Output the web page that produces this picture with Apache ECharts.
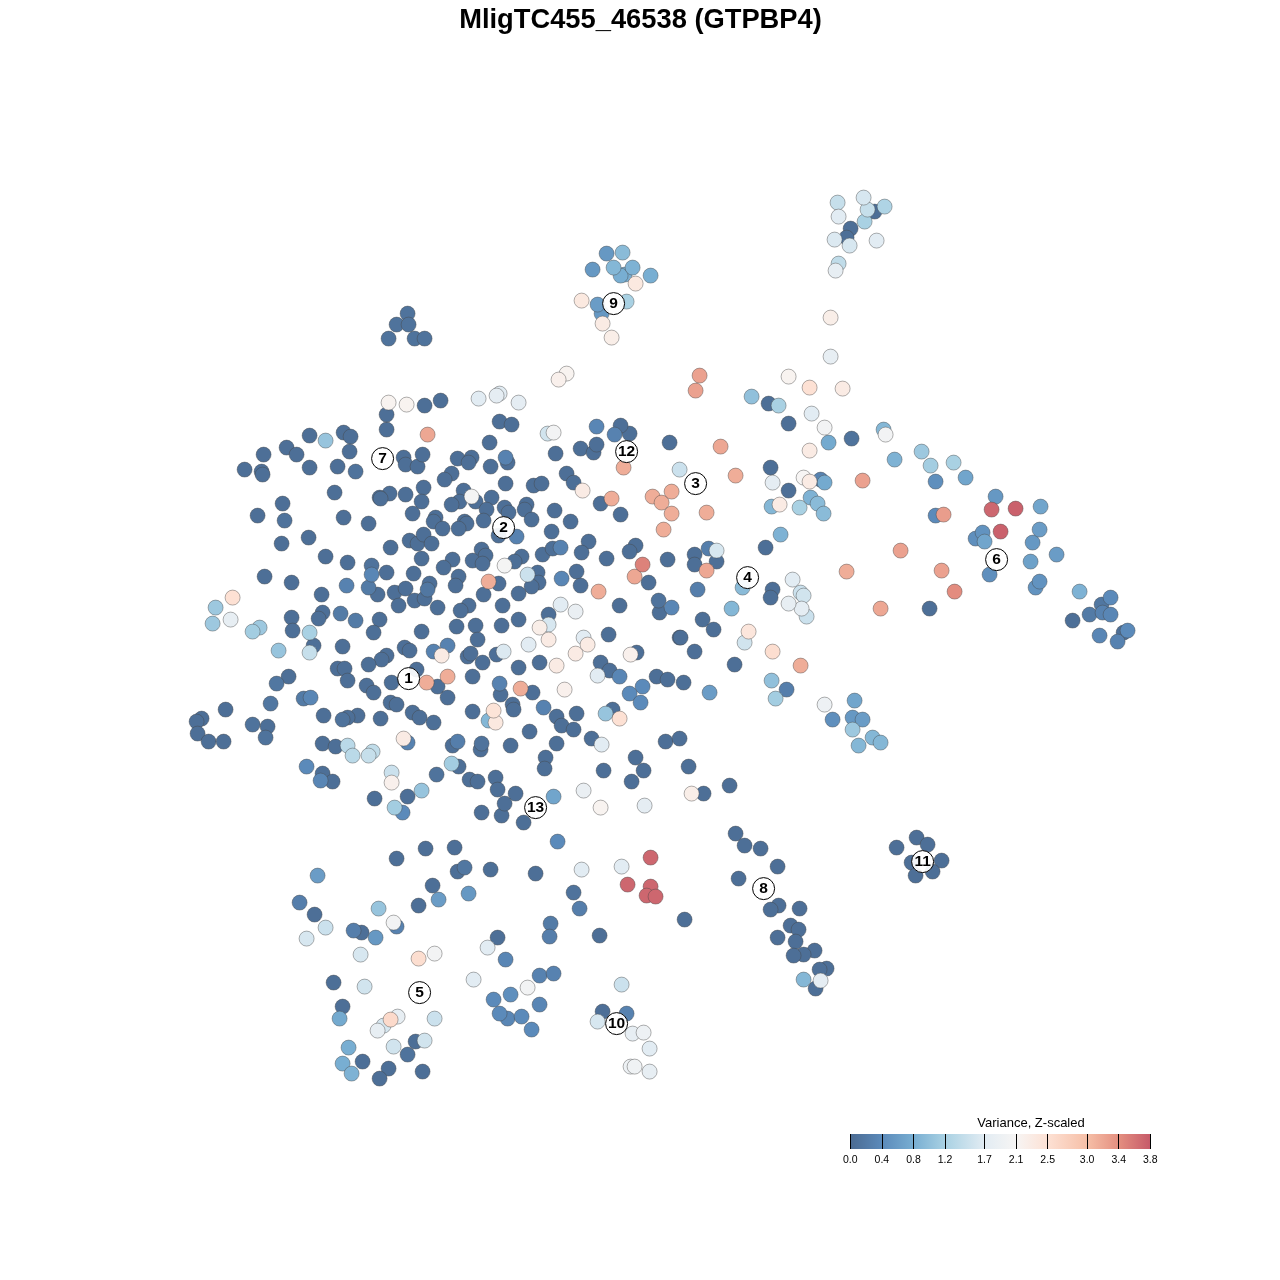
<!DOCTYPE html>
<html><head><meta charset="utf-8">
<script src="https://cdn.jsdelivr.net/npm/echarts@6/dist/echarts.min.js"></script>
<style>html,body{margin:0;padding:0;background:#fff}#c{width:1280px;height:1280px}</style>
</head><body><div id="c"></div>
<script>
// t-SNE coordinates are expressed on a 0..1280 embedding scale; third value = Z-scaled variance
const mainWest = [[309,435,.05],[325,440,1.05],[343,432,.05],[350,436,.05],[386,429,.05],[427,434,3.2],[489,442,.05],[263,454,.05],[286,447,.05],[296,454,.05],[244,469,.05],[261,471,.05],[262,474,.05],[309,467,.05],[337,466,.05],[355,471,.1],[349,451,.05],[403,457,.05],[405,464,.05],[417,466,.05],[422,454,.05],[457,458,.05],[471,457,.05],[468,462,.05],[490,466,.05],[451,473,.05],[444,479,.05],[423,487,.05],[389,493,.05],[405,494,.05],[379,497,.05],[380,498,.05],[334,492,.05],[282,503,.05],[257,515,.05],[284,520,.1],[343,517,.05],[368,523,.05],[421,501,.05],[463,490,.05],[471,496,2.05],[459,501,.05],[451,504,.05],[475,501,.05],[491,497,.05],[486,509,.05],[412,513,.05],[435,517,.05],[433,521,.05],[442,528,.05],[464,521,.05],[466,523,.05],[458,528,.05],[483,520,.05],[308,537,.05],[281,543,.05],[390,547,.05],[409,540,.05],[417,543,.05],[423,534,.05],[431,543,.05],[481,549,.05],[485,555,.05],[325,556,.05],[347,562,.05],[371,565,.1],[371,574,.35],[386,572,.05],[421,558,.05],[472,560,.05],[482,563,.05],[452,559,.05],[443,567,.05],[413,573,.05],[458,576,.05],[455,585,.05],[264,576,.05],[291,582,.05],[346,585,.3],[368,587,.2],[377,594,.05],[394,592,.05],[405,588,.05],[429,583,.05],[427,589,.15],[414,600,.05],[424,598,.05],[398,605,.05],[437,607,.05],[468,605,.05],[460,610,.05],[483,594,.05],[488,581,3.15],[321,594,.05],[232,597,2.5],[215,607,1.1],[230,619,1.8],[212,623,1.1],[322,612,.05],[318,618,.05],[340,613,.2],[355,620,.2],[379,619,.05],[291,617,.05],[292,630,.05],[259,627,1.1],[252,631,1.15],[309,632,1.2],[373,632,.05],[421,631,.05],[456,626,.05],[475,625,.05],[477,639,.05],[313,645,.05],[309,652,1.45],[278,650,1.05],[342,646,.05],[404,647,.05],[409,650,.05],[386,655,.05],[381,659,.05],[433,651,.3],[447,645,.3],[441,655,2.3],[467,656,.05],[470,653,.05],[482,662,.05],[496,654,.05],[503,651,1.65],[337,668,.05],[344,668,.05],[368,664,.05],[288,676,.05],[276,683,.15],[347,680,.05],[366,685,.05],[373,692,.05],[391,682,.05],[416,669,.05],[426,682,3.15],[447,676,3.15],[437,686,.05],[472,676,.05],[447,697,.05],[270,703,.15],[303,698,.2],[310,697,.35],[390,702,.05],[396,704,.05],[412,712,.05],[419,717,.05],[433,722,.05],[472,711,.05],[323,715,.05],[357,715,.05],[347,717,.05],[342,719,.1],[380,718,.05],[225,709,.05],[201,718,.05],[196,721,.05],[252,724,.1],[267,726,.05],[197,733,.05],[208,741,.05],[223,741,.05],[265,737,.1],[403,738,2.3],[407,742,.3]];
const mainEast = [[499,683,.3],[500,694,.05],[493,710,2.45],[495,722,2.35],[488,720,.9],[505,457,.3],[507,462,.05],[505,483,.05],[533,485,.05],[541,483,.05],[555,453,.05],[580,448,.05],[593,452,.05],[596,444,.05],[614,434,.3],[629,433,.05],[669,442,.05],[623,467,3.15],[566,473,.05],[573,482,.05],[582,490,2.3],[600,503,.05],[611,498,3.15],[620,514,.05],[652,496,3.15],[661,502,3.15],[671,491,3.15],[671,513,3.15],[663,529,3.15],[679,469,1.5],[504,507,.05],[508,512,.05],[526,504,.05],[524,509,.05],[531,519,.05],[554,510,.05],[570,521,.05],[551,531,.05],[498,535,.05],[516,536,.3],[588,541,.05],[581,552,.05],[635,545,.05],[629,551,.05],[606,558,.05],[667,559,.05],[542,554,.05],[552,548,.05],[560,547,.3],[521,556,.05],[514,561,.05],[504,565,2.05],[642,564,3.5],[634,576,3.2],[576,571,.05],[561,578,.35],[580,585,.05],[527,574,1.5],[537,572,.05],[538,582,.05],[531,586,.05],[518,593,.05],[498,583,.05],[502,605,.05],[598,591,3.15],[648,582,.05],[658,600,.1],[671,607,.35],[659,612,.05],[619,605,.05],[560,604,1.7],[575,611,1.85],[548,614,.05],[548,624,1.6],[539,627,2.25],[548,639,2.3],[518,619,.05],[501,625,.05],[528,644,1.7],[539,662,.05],[556,665,2.3],[518,667,.05],[608,634,.05],[583,637,1.7],[587,644,2.3],[575,653,2.3],[636,652,.05],[630,654,2.2],[600,662,.05],[609,670,.05],[597,675,1.7],[619,676,.35],[656,676,.05],[667,679,.05],[683,682,.05],[642,686,.4],[629,693,.4],[640,702,.4],[679,637,.05],[520,688,3.15],[532,692,.05],[564,689,2.2],[512,704,.05],[513,709,.05],[543,707,.3],[556,716,.05],[561,725,.05],[576,713,.05],[573,729,.05],[605,713,1.05],[612,709,.05],[619,718,2.5],[529,731,.05],[591,738,.05],[601,744,1.7],[556,743,.05],[665,741,.05],[679,738,.05],[510,745,.05],[481,743,.1],[480,749,.05],[457,741,.25],[452,745,.05],[372,751,1.4]];
const mainSouth = [[322,743,.05],[335,746,.05],[347,745,1.35],[352,755,1.35],[368,755,1.45],[545,757,.05],[544,768,.05],[458,766,.05],[451,763,1.15],[306,766,.4],[322,773,.05],[320,780,.35],[332,781,.05],[391,772,1.5],[391,782,2.2],[436,774,.1],[469,779,.05],[477,781,.05],[495,777,.05],[497,789,.05],[515,793,.05],[374,798,.05],[407,796,.05],[421,790,1.05],[394,807,1.15],[402,812,.4],[481,812,.05],[501,815,.05],[504,803,.05],[523,822,.05],[553,796,.7],[583,790,1.85],[600,807,2.15],[635,757,.05],[603,770,.05],[643,770,.05],[631,781,.05],[688,766,.05],[729,785,.05],[703,793,.05],[691,793,2.25],[644,805,1.75]];
const cluster5Region = [[557,841,.4],[396,858,.05],[425,848,.05],[454,847,.05],[457,871,.05],[464,867,.15],[490,869,.05],[535,873,.05],[581,869,1.7],[317,875,.6],[432,885,.05],[438,899,.6],[468,893,.55],[573,892,.1],[579,908,.25],[299,902,.25],[314,914,.05],[418,905,.05],[378,908,1.05],[325,927,1.5],[306,938,1.6],[353,930,.25],[361,932,.05],[375,937,.55],[393,922,2],[396,926,.3],[497,937,.05],[487,947,1.7],[550,923,.2],[549,936,.25],[599,935,.05],[360,954,1.6],[434,953,2],[418,958,2.55],[505,959,.35],[333,982,.05],[364,986,1.55],[473,979,1.7],[539,975,.3],[553,973,.3],[527,987,2],[493,999,.4],[510,994,.45],[539,1004,.35],[342,1006,.05],[339,1018,.75],[434,1018,1.5],[397,1016,1.8],[383,1025,1.6],[390,1019,2.6],[377,1030,1.8],[499,1013,.4],[507,1018,.35],[521,1016,.4],[531,1029,.4],[393,1046,1.55],[415,1041,.05],[424,1040,1.55],[348,1047,.8],[407,1054,.1],[362,1061,.05],[342,1063,.8],[351,1073,.85],[388,1068,.05],[379,1078,.05],[422,1071,.05]];
const cluster10 = [[621,984,1.5],[602,1011,.05],[626,1013,.3],[597,1021,1.6],[643,1032,1.9],[632,1033,1.8],[649,1048,1.7],[630,1066,1.9],[634,1066,1.95],[649,1071,1.8]];
const cluster8 = [[735,833,.05],[744,845,.05],[760,848,.05],[777,866,.05],[738,878,.05],[778,905,.05],[770,909,.05],[799,908,.05],[790,925,.05],[798,929,.05],[777,937,.05],[795,941,.05],[814,950,.05],[803,954,.05],[793,955,.05],[826,968,.05],[819,969,.05],[803,979,.9],[820,980,1.75],[815,988,.05]];
const redGroup = [[650,857,3.7],[621,866,1.7],[627,884,3.7],[650,886,3.7],[646,895,3.7],[655,896,3.7],[684,919,.05]];
const cluster11 = [[916,837,.05],[927,844,.05],[896,847,.05],[911,862,.05],[941,860,.05],[932,871,.05],[915,875,.05]];
const eastArm = [[699,375,3.25],[695,390,3.25],[751,396,1],[768,403,.05],[778,405,1.2],[788,376,2.15],[809,387,2.5],[842,388,2.3],[830,356,1.8],[830,317,2.25],[811,413,1.7],[824,427,2],[788,423,.05],[828,442,.75],[851,438,.1],[883,429,.9],[885,434,2],[720,446,3.2],[809,450,2.3],[894,459,.85],[770,467,.05],[735,475,3.15],[772,482,1.75],[803,477,2.1],[820,479,.3],[809,481,2.3],[824,482,.75],[862,480,3.25],[788,490,.05],[810,497,.85],[817,503,.95],[771,506,.9],[779,504,2.3],[799,507,1.2],[823,513,.95],[706,512,3.15],[780,534,.85],[765,547,.05],[900,550,3.25],[694,554,.05],[694,564,.05],[708,548,.25],[716,561,.05],[716,550,1.6],[706,570,3.2],[697,589,.25],[846,571,3.15],[772,589,.05],[770,597,.05],[742,587,.95],[792,579,1.7],[800,592,1.5],[803,595,1.55],[788,603,1.8],[801,608,1.75],[806,616,1.5],[731,608,.9],[702,619,.05],[713,629,.05],[680,637,.05],[694,651,.05],[748,631,2.4],[744,642,1.55],[772,651,2.55],[800,665,3.15],[734,664,.05],[771,680,1],[786,689,.25],[775,698,1.15],[709,692,.6],[824,704,1.9],[854,700,.7],[832,719,.45],[852,717,.55],[862,719,.6],[852,729,1.1],[872,737,.9],[880,742,.9],[858,745,.9]];
const cluster6Region = [[921,451,1.1],[930,465,1.15],[953,462,1.2],[935,481,.45],[965,477,.7],[995,496,.55],[991,509,3.7],[1015,508,3.75],[1040,506,.7],[935,515,.4],[943,514,3.28],[1000,531,3.75],[1039,529,.6],[975,538,.45],[982,532,.5],[984,541,.7],[1032,542,.55],[1056,554,.6],[1030,561,.65],[989,574,.45],[941,570,3.25],[954,591,3.42],[1035,587,.5],[1039,581,.5],[1079,591,.85],[929,608,.05],[880,608,3.2],[1101,604,.15],[1110,597,.4],[1089,614,.2],[1072,620,.05],[1102,612,.3],[1110,614,.35],[1099,635,.35],[1123,632,.05],[1127,630,.4],[1117,641,.3]];
const cluster9 = [[606,253,.55],[622,252,.95],[613,267,.9],[632,267,.85],[592,269,.55],[624,274,.8],[620,275,.8],[650,275,.8],[635,283,2.35],[581,300,2.35],[597,304,.6],[626,301,1.2],[601,313,.55],[602,323,2.3],[611,337,2.25]];
const smallNorth = [[407,313,.1],[396,324,.1],[408,324,.1],[388,338,.1],[414,338,.1],[424,338,.1],[566,373,2.15],[558,379,2.2],[388,402,2.15],[406,404,2.15],[424,405,.05],[440,400,.05],[478,398,1.7],[496,395,1.75],[499,393,1.7],[518,402,1.75],[386,414,.05],[499,421,.05],[511,424,.05],[547,433,1.55],[553,432,2],[596,426,.35],[620,425,.05]];
const topCluster = [[837,202,1.45],[863,197,1.6],[884,206,1.25],[874,211,.05],[867,209,1.45],[838,216,1.7],[864,221,1.2],[850,228,.05],[846,237,.05],[834,239,1.65],[849,245,1.6],[876,240,1.7],[838,263,1.4],[835,270,1.8]];

const clusterLabels = [[408,678,'1'],[503,527,'2'],[695,483,'3'],[747,577,'4'],[419,992,'5'],[996,559,'6'],[382,458,'7'],[763,888,'8'],[613,303,'9'],[616,1023,'10'],[922,861,'11'],[626,451,'12'],[535,807,'13']];

const legendTicks = [0.0,0.4,0.8,1.2,1.7,2.1,2.5,3.0,3.4,3.8];
const legendColors = ['#4b6b92','#5b8aba','#78aed2','#a9d1e3','#e2ecf3','#f7f5f4','#fde1d4','#f6bfa7','#e48f80','#c65a69'];

const titleText = 'MligTC455_46538 (GTPBP4)';
const legendTitle = 'Variance, Z-scaled';

function hex(c){return [1,3,5].map(i=>parseInt(c.substr(i,2),16));}
function colorOf(v){
  for(let i=1;i<legendTicks.length;i++){
    if(v<=legendTicks[i]){
      const t=(v-legendTicks[i-1])/(legendTicks[i]-legendTicks[i-1]);
      const a=hex(legendColors[i-1]),b=hex(legendColors[i]);
      return 'rgb('+a.map((x,k)=>Math.round(x+(b[k]-x)*t)).join(',')+')';
    }
  }
  return legendColors[legendColors.length-1];
}
const points=[].concat(mainWest,mainEast,mainSouth,cluster5Region,cluster10,cluster8,redGroup,cluster11,eastArm,cluster6Region,cluster9,smallNorth,topCluster)
  .sort((a,b)=>a[2]-b[2]);

const chart=echarts.init(document.getElementById('c'),null,{renderer:'canvas'});
const font='"Liberation Sans",Arial,sans-serif';
chart.setOption({
  animation:false,
  backgroundColor:'#fff',
  title:[
    {text:titleText,left:640.5,top:7,padding:0,textAlign:'center',textStyle:{fontFamily:font,fontSize:27.3,fontWeight:'bold',color:'#000'}},
    {text:legendTitle,left:1031,top:1116.5,padding:0,textAlign:'center',textStyle:{fontFamily:font,fontSize:13,fontWeight:'normal',color:'#000'}}
  ],
  grid:[
    {left:0,top:0,width:1280,height:1280},
    {left:850.3,top:1134,width:300,height:15}
  ],
  xAxis:[
    {type:'value',gridIndex:0,min:-0.6,max:1279.4,show:false},
    {type:'value',gridIndex:1,min:0,max:3.8,z:10,splitLine:{show:false},axisLine:{show:false},
     axisTick:{show:true,inside:true,length:15,customValues:legendTicks,lineStyle:{color:'#000',width:1}},
     axisLabel:{show:true,customValues:legendTicks,margin:6,hideOverlap:false,fontFamily:font,fontSize:10.5,color:'#000',formatter:v=>v.toFixed(1)}}
  ],
  yAxis:[
    {type:'value',gridIndex:0,min:-0.6,max:1279.4,inverse:true,show:false},
    {type:'category',gridIndex:1,data:['v'],show:false}
  ],
  series:[
    {type:'scatter',xAxisIndex:0,yAxisIndex:0,symbolSize:15,data:points,z:2,
     itemStyle:{color:p=>colorOf(p.value[2]),borderColor:'rgba(70,70,70,0.42)',borderWidth:1,opacity:1}},
    {type:'scatter',xAxisIndex:0,yAxisIndex:0,symbolSize:22,z:3,data:clusterLabels,
     itemStyle:{color:'rgba(255,255,255,0.92)',borderColor:'#000',borderWidth:1,opacity:1},
     label:{show:true,position:'inside',formatter:p=>p.value[2],fontFamily:font,fontWeight:'bold',fontSize:15.5,color:'#000'}},
    {type:'bar',xAxisIndex:1,yAxisIndex:1,data:[3.8],barWidth:'100%',silent:true,
     itemStyle:{color:new echarts.graphic.LinearGradient(0,0,1,0,legendTicks.map((t,i)=>({offset:t/3.8,color:legendColors[i]})))}}
  ]
});
</script></body></html>
